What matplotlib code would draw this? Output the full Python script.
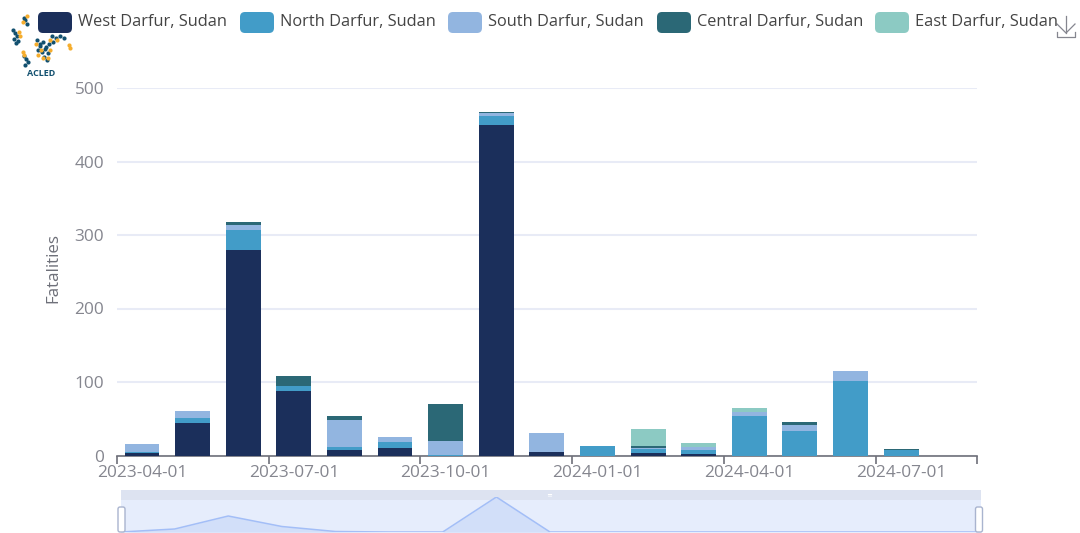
import numpy as np
import matplotlib
matplotlib.use("Agg")
import matplotlib.pyplot as plt
from matplotlib.patches import FancyBboxPatch

months = ["2023-04-01","2023-05-01","2023-06-01","2023-07-01","2023-08-01","2023-09-01",
          "2023-10-01","2023-11-01","2023-12-01","2024-01-01","2024-02-01","2024-03-01",
          "2024-04-01","2024-05-01","2024-06-01","2024-07-01","2024-08-01"]
west    = [4, 44, 280, 88, 8, 10, 0, 449, 5, 0, 3, 2, 0, 0, 0, 0, 0]
north   = [1, 7, 27, 7, 3, 9, 1, 13, 0, 13, 6, 5, 54, 33, 101, 7, 0]
south   = [10, 10, 6, 0, 37, 6, 19, 4, 26, 0, 1, 4, 5, 9, 14, 0, 0]
central = [0, 0, 5, 13, 6, 0, 50, 2, 0, 0, 3, 0, 0, 4, 0, 2, 0]
east    = [0, 0, 0, 0, 0, 0, 0, 0, 0, 0, 23, 6, 6, 0, 0, 0, 0]
names = ["West Darfur, Sudan","North Darfur, Sudan","South Darfur, Sudan","Central Darfur, Sudan","East Darfur, Sudan"]
colors = ["#1b2f5b","#429cc8","#92b5e0","#2b6876","#8ccac3"]
legend_x = [38, 240, 448, 657, 875]

# overview line in the slider
slider_vals = [0, 3, 16, 5.5, 0.5, 0, 0, 35, 0, 0, 0, 0, 0, 0, 0, 0, 0]

# logo dots
logo_navy_x = [25,27,24,13,15,17,14,18,16,24,26,28,25,37,40,43,46,49,38,42,45,48,44,47,40,52,56,60,64,53]
logo_navy_y = [20,24,18,30,33,36,39,41,43,56,59,62,65,40,44,42,47,44,50,52,49,53,57,60,46,36,38,36,38,42]
logo_gold_x = [27,23,19,20,24,36,41,50,38,43,48,50,57,69,70,23]
logo_gold_y = [16,22,32,36,55,44,50,40,55,58,58,50,40,45,48,52]

W, H = 1080, 533
plt.rcParams['font.family'] = ['Open Sans', 'DejaVu Sans']
fig = plt.figure(figsize=(W/100, H/100), dpi=100)

def px_axes(l, t, r, b):
    return fig.add_axes([l/W, 1-b/H, (r-l)/W, (b-t)/H])

ax = px_axes(116.7, 88, 977, 455.5)
x = np.arange(len(months))
bottom = np.zeros(len(months))
for vals, c in zip([west, north, south, central, east], colors):
    ax.bar(x, vals, 0.69, bottom=bottom, color=c, zorder=3)
    bottom += np.array(vals)

ax.set_xlim(-0.5, 16.5)
ax.set_ylim(0, 500)
ax.set_yticks([0,100,200,300,400,500])
ax.grid(axis='y', color='#e8ebf6', lw=1.5, zorder=0)
ax.tick_params(axis='y', length=0, labelsize=12.4, labelcolor='#85868f', pad=9)
ax.set_xticks(np.append(x[::3]-0.5, 16.5))
ax.set_xticklabels([])
ax.tick_params(axis='x', which='major', length=6, width=1.2, color='#6e7079')
ax.set_xticks(x[:16:3], minor=True)
ax.set_xticklabels(months[:16:3], minor=True)
ax.tick_params(axis='x', which='minor', length=0, labelsize=12.4, labelcolor='#85868f', pad=7)
for s in ['top','left','right']:
    ax.spines[s].set_visible(False)
ax.spines['bottom'].set_color('#6e7079')
ax.spines['bottom'].set_linewidth(1.2)
ax.set_ylabel("Fatalities", fontsize=12.2, color='#6e7079')
ax.yaxis.set_label_coords((61-116.7)/(977-116.7), 0.51)

# page overlay in pixel coordinates: legend, logo, icon, slider chrome
ov = fig.add_axes([0,0,1,1], zorder=5)
ov.set_xlim(0, W)
ov.set_ylim(H, 0)
ov.axis('off')
ov.patch.set_alpha(0)

ov.scatter(logo_navy_x, logo_navy_y, s=9, color='#12506f', lw=0, zorder=1)
ov.scatter(logo_gold_x, logo_gold_y, s=9, color='#f5ad2e', lw=0, zorder=1)
ov.text(41, 73, "ACLED", fontsize=6.5, color='#12506f', ha='center', va='center', fontweight='bold')

for lx, name, c in zip(legend_x, names, colors):
    ov.add_patch(FancyBboxPatch((lx+2, 14), 30, 17, boxstyle="round,pad=2,rounding_size=5", fc=c, ec='none', zorder=2))
    ov.text(lx+40, 21.5, name, fontsize=11.75, color='#444444', va='center', ha='left')

# download icon
ov.plot([1066,1066], [16,33], color='#85868f', lw=0.9)
ov.plot([1057,1066,1075], [24,33,24], color='#85868f', lw=0.9)
ov.plot([1057,1057,1075,1075], [32,37,37,32], color='#85868f', lw=0.9)

# slider
ov.add_patch(plt.Rectangle((120.5, 490), 860, 10, fc='#dde3f1', ec='none'))
ov.add_patch(plt.Rectangle((120.5, 500), 860, 33, fc='#e6edfc', ec='none'))
ov.plot([550,550],[494,497], color='white', lw=3, ls=(0,(0.3,0.3)))
sl = px_axes(121, 497, 979, 532)
sx = np.arange(len(slider_vals))
sl.fill_between(sx, slider_vals, 0, color='#d2dff9', lw=0)
sl.plot(sx, slider_vals, color='#a3bef7', lw=1.1)
sl.set_xlim(0, 16)
sl.set_ylim(0, 35)
sl.axis('off')
sl.set_zorder(6)
sl.patch.set_alpha(0)
ov2 = fig.add_axes([0,0,1,1], zorder=7)
ov2.set_xlim(0, W)
ov2.set_ylim(H, 0)
ov2.axis('off')
ov2.patch.set_alpha(0)
for hx in [121.5, 979]:
    ov2.add_patch(FancyBboxPatch((hx-3.5, 507), 7, 25, boxstyle="round,pad=0,rounding_size=2",
                                 fc='white', ec='#a9b4cf', lw=1))

fig.savefig("out.png", dpi=100)
